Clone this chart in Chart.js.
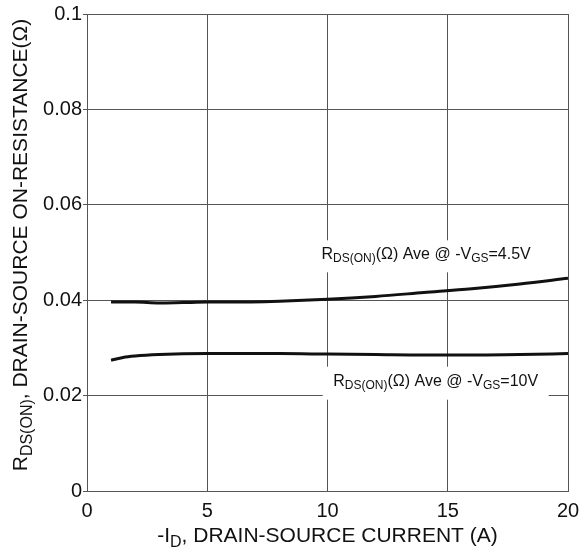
<!DOCTYPE html>
<html>
<head>
<meta charset="utf-8">
<script src="https://cdn.jsdelivr.net/npm/chart.js@4"></script>
<style>
  html, body { margin: 0; padding: 0; background: #fff; }
  #wrap { width: 580px; height: 554px; }
</style>
</head>
<body>
<div id="wrap"><canvas id="rdsChart" width="580" height="554"></canvas></div>
<script>
const currentVgs45 = [1, 2, 3, 4, 5, 6, 8, 10, 12, 14, 16, 18, 20]
const rdsVgs45 = [0.0396, 0.0396, 0.0394, 0.0395, 0.0396, 0.0396, 0.0398, 0.0402, 0.0408, 0.0416, 0.0424, 0.0434, 0.0446]

const currentVgs10 = [1, 1.5, 2, 3, 5, 8, 10, 12, 14, 16, 18, 20]
const rdsVgs10 = [0.0274, 0.0280, 0.0283, 0.0286, 0.0288, 0.0288, 0.0287, 0.0286, 0.0285, 0.0285, 0.0286, 0.0288]

const xTicks = [0, 5, 10, 15, 20]
const yTicks = [0, 0.02, 0.04, 0.06, 0.08, 0.1]

const FONT = '"Liberation Sans", Arial, sans-serif'

// draw a run of [text, isSubscript] pieces, centred on x
const drawParts = (ctx, parts, x, y, size) => {
    const subSize = Math.round(size * 0.78)
    let total = 0
    parts.forEach(p => {
        ctx.font = (p[1] ? subSize : size) + 'px ' + FONT
        total += ctx.measureText(p[0]).width
    })
    let cx = x - total / 2
    ctx.textAlign = 'left'
    ctx.textBaseline = 'middle'
    parts.forEach(p => {
        ctx.font = (p[1] ? subSize : size) + 'px ' + FONT
        ctx.fillText(p[0], cx, p[1] ? y + size * 0.3 : y)
        cx += ctx.measureText(p[0]).width
    })
    return total
}

const curveLabels = {
    id: 'curveLabels',
    afterDatasetsDraw: (chart, args, options) => {
        const {ctx, scales} = chart
        ctx.save()
        options.items.forEach(item => {
            const px = scales.x.getPixelForValue(item.x)
            const py = scales.y.getPixelForValue(item.y)
            ctx.fillStyle = '#fff'
            ctx.fillRect(px - item.w / 2, py - item.h / 2, item.w, item.h)
            ctx.fillStyle = '#111'
            drawParts(ctx, item.parts, px, py - 2, 16)
        })
        ctx.restore()
    }
}

const axisTitles = {
    id: 'axisTitles',
    afterDraw: (chart) => {
        const {ctx, chartArea} = chart
        ctx.save()
        ctx.fillStyle = '#111'
        drawParts(ctx, [['-I', false], ['D', true], [', DRAIN-SOURCE CURRENT (A)', false]],
            (chartArea.left + chartArea.right) / 2, 536, 21)
        ctx.translate(21, 245)
        ctx.rotate(-Math.PI / 2)
        drawParts(ctx, [['R', false], ['DS(ON)', true], [', DRAIN-SOURCE ON-RESISTANCE(Ω)', false]], 0, 0, 21)
        ctx.restore()
    }
}

const toPoints = (xs, ys) => xs.map((x, i) => ({ x: x, y: ys[i] }))

new Chart(document.getElementById('rdsChart'), {
    type: 'line',
    data: {
        datasets: [
            {
                label: 'VGS=4.5V',
                data: toPoints(currentVgs45, rdsVgs45),
                borderColor: '#111',
                borderWidth: 3,
                pointRadius: 0,
                fill: false,
                cubicInterpolationMode: 'monotone'
            },
            {
                label: 'VGS=10V',
                data: toPoints(currentVgs10, rdsVgs10),
                borderColor: '#111',
                borderWidth: 3,
                pointRadius: 0,
                fill: false,
                cubicInterpolationMode: 'monotone'
            }
        ]
    },
    options: {
        responsive: false,
        animation: false,
        layout: {
            padding: { left: 0, top: 14, right: 12, bottom: 0 }
        },
        plugins: {
            legend: { display: false },
            tooltip: { enabled: false },
            curveLabels: {
                items: [
                    { x: 14.1, y: 0.0492, w: 240, h: 32,
                      parts: [['R', false], ['DS(ON)', true], ['(Ω) Ave @ -V', false], ['GS', true], ['=4.5V', false]] },
                    { x: 14.5, y: 0.0226, w: 226, h: 33,
                      parts: [['R', false], ['DS(ON)', true], ['(Ω) Ave @ -V', false], ['GS', true], ['=10V', false]] }
                ]
            }
        },
        scales: {
            x: {
                type: 'linear',
                min: 0,
                max: 20,
                afterBuildTicks: (scale) => { scale.ticks = xTicks.map(v => ({ value: v })) },
                afterFit: (scale) => {
                    scale.height = 63
                    scale.paddingLeft = 0
                    scale.paddingRight = 0
                },
                grid: { color: '#555', lineWidth: 1, drawTicks: false },
                border: { color: '#555', width: 1 },
                ticks: {
                    color: '#111',
                    padding: 8,
                    font: { family: FONT, size: 20 }
                }
            },
            y: {
                type: 'linear',
                min: 0,
                max: 0.1,
                afterBuildTicks: (scale) => { scale.ticks = yTicks.map(v => ({ value: v })) },
                afterFit: (scale) => {
                    scale.width = 87
                    scale.paddingTop = 0
                    scale.paddingBottom = 0
                },
                grid: { color: '#555', lineWidth: 1, tickLength: 4 },
                border: { color: '#555', width: 1 },
                ticks: {
                    color: '#111',
                    padding: 1,
                    font: { family: FONT, size: 20 },
                    callback: (v) => String(v)
                }
            }
        }
    },
    plugins: [curveLabels, axisTitles]
});
</script>
</body>
</html>
